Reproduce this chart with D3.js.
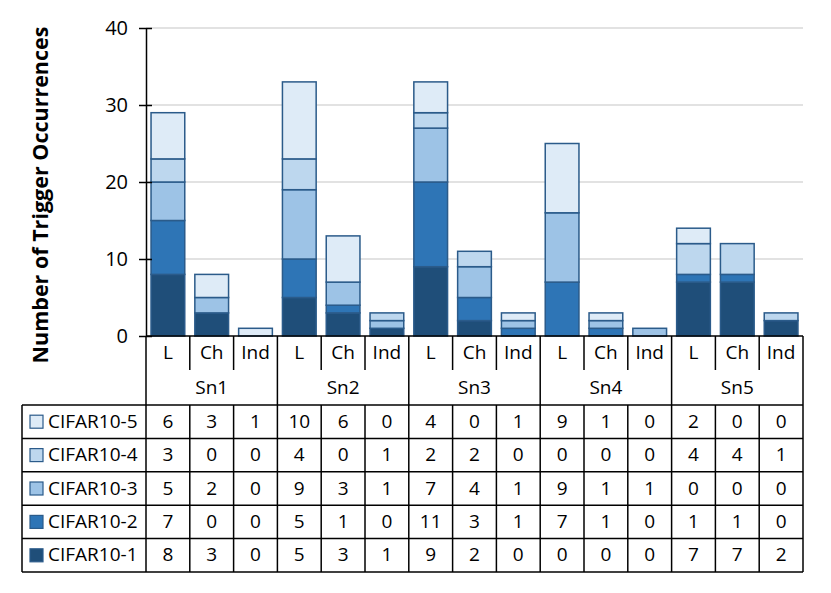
<!DOCTYPE html>
<html>
<head>
<meta charset="utf-8">
<script src="https://cdn.jsdelivr.net/npm/d3@7"></script>
<style>
  html, body { margin: 0; padding: 0; background: #fff; }
  svg { display: block; font-family: "Open Sans", "Noto Sans", sans-serif; }
</style>
</head>
<body>
<svg width="831" height="593"></svg>
<script>
const groups = ["Sn1", "Sn2", "Sn3", "Sn4", "Sn5"];
const subs = ["L", "Ch", "Ind"];
const seriesNames = ["CIFAR10-1", "CIFAR10-2", "CIFAR10-3", "CIFAR10-4", "CIFAR10-5"];
const colors = ["#1f4e79", "#2e75b6", "#9dc3e6", "#bdd7ee", "#deebf7"];

// values per series, columns in order Sn1 L/Ch/Ind, Sn2 L/Ch/Ind, ...
const cifar1 = [8, 3, 0, 5, 3, 1, 9, 2, 0, 0, 0, 0, 7, 7, 2];
const cifar2 = [7, 0, 0, 5, 1, 0, 11, 3, 1, 7, 1, 0, 1, 1, 0];
const cifar3 = [5, 2, 0, 9, 3, 1, 7, 4, 1, 9, 1, 1, 0, 0, 0];
const cifar4 = [3, 0, 0, 4, 0, 1, 2, 2, 0, 0, 0, 0, 4, 4, 1];
const cifar5 = [6, 3, 1, 10, 6, 0, 4, 0, 1, 9, 1, 0, 2, 0, 0];
const yTicks = [0, 10, 20, 30, 40];

const series = [cifar1, cifar2, cifar3, cifar4, cifar5];
const columns = groups.flatMap(g => subs.map(s => g + "|" + s));

const svg = d3.select("svg");
const plotLeft = 146, plotRight = 803, plotTop = 28, base = 336;
const headRow = 34, snRow = 35, rowH = 33.4;
const legendLeft = 22;
const fs = 19;

const x = d3.scaleBand().domain(columns).range([plotLeft, plotRight]).paddingInner(0.23).paddingOuter(0.115);
const colW = (plotRight - plotLeft) / columns.length;
const colX = i => plotLeft + i * colW;
const y = d3.scaleLinear().domain([0, 40]).range([base, plotTop]);

// grid
svg.append("g")
  .selectAll("line")
  .data(yTicks.filter(d => d > 0))
  .join("line")
  .attr("x1", plotLeft).attr("x2", plotRight)
  .attr("y1", d => y(d)).attr("y2", d => y(d))
  .attr("stroke", "#d9d9d9").attr("stroke-width", 1.5);

// stacked bars
const table = columns.map((c, i) => {
  const row = { col: c };
  seriesNames.forEach((s, k) => row[s] = series[k][i]);
  return row;
});
const stacked = d3.stack().keys(seriesNames)(table);

svg.append("g")
  .selectAll("g")
  .data(stacked)
  .join("g")
  .attr("fill", (d, k) => colors[k])
  .selectAll("rect")
  .data(d => d.filter(p => p[1] - p[0] > 0))
  .join("rect")
  .attr("x", p => x(p.data.col))
  .attr("width", x.bandwidth())
  .attr("y", p => y(p[1]))
  .attr("height", p => y(p[0]) - y(p[1]))
  .attr("stroke", "#2b5b8a")
  .attr("stroke-width", 1.5);

// y axis
const yAxis = svg.append("g")
  .attr("transform", `translate(${plotLeft},0)`)
  .call(d3.axisLeft(y).tickValues(yTicks).tickSize(0).tickPadding(18));
yAxis.select(".domain").attr("stroke", "#000").attr("stroke-width", 1.5);
yAxis.selectAll(".tick text").attr("font-size", fs + 1).attr("fill", "#000")
  .attr("font-family", "Open Sans, sans-serif");
yAxis.selectAll(".tick").append("line")
  .attr("x1", -7).attr("x2", 6).attr("stroke", "#000").attr("stroke-width", 1.5);

svg.append("text")
  .attr("transform", `translate(42,${(25 + 365) / 2}) rotate(-90)`)
  .attr("text-anchor", "middle")
  .attr("dominant-baseline", "middle")
  .attr("font-size", 21.5)
  .attr("font-weight", "bold")
  .text("Number of Trigger Occurrences");

// data table below
const tbl = svg.append("g").attr("stroke", "#000").attr("stroke-width", 1.5);
const dataTop = base + headRow + snRow;
const dataBottom = dataTop + rowH * seriesNames.length;

// header row: sub labels
svg.append("g")
  .selectAll("text")
  .data(columns)
  .join("text")
  .attr("x", (c, i) => colX(i) + colW / 2)
  .attr("y", base + headRow / 2 + 1)
  .attr("text-anchor", "middle")
  .attr("dominant-baseline", "middle")
  .attr("font-size", fs)
  .text(c => c.split("|")[1]);

// group labels
svg.append("g")
  .selectAll("text")
  .data(groups)
  .join("text")
  .attr("x", (g, i) => colX(i * 3) + colW * 1.5)
  .attr("y", base + headRow + snRow / 2 + 1)
  .attr("text-anchor", "middle")
  .attr("dominant-baseline", "middle")
  .attr("font-size", fs)
  .text(g => g);

// short separators within groups
tbl.selectAll("line.sub")
  .data(d3.range(1, columns.length).filter(i => i % 3 !== 0))
  .join("line")
  .attr("class", "sub")
  .attr("x1", i => colX(i)).attr("x2", i => colX(i))
  .attr("y1", base).attr("y2", base + headRow);

// group separators and outer verticals
tbl.selectAll("line.grp")
  .data(d3.range(0, columns.length + 1, 3))
  .join("line")
  .attr("class", "grp")
  .attr("x1", i => colX(i)).attr("x2", i => colX(i))
  .attr("y1", base).attr("y2", dataTop);

// data-row verticals
tbl.selectAll("line.dv")
  .data(d3.range(0, columns.length + 1))
  .join("line")
  .attr("class", "dv")
  .attr("x1", i => colX(i)).attr("x2", i => colX(i))
  .attr("y1", dataTop).attr("y2", dataBottom);

tbl.append("line").attr("x1", legendLeft).attr("x2", legendLeft)
  .attr("y1", dataTop).attr("y2", dataBottom);

// horizontals
tbl.selectAll("line.h")
  .data(d3.range(0, seriesNames.length + 1))
  .join("line")
  .attr("class", "h")
  .attr("x1", legendLeft).attr("x2", plotRight)
  .attr("y1", r => dataTop + r * rowH).attr("y2", r => dataTop + r * rowH);

// x baseline
tbl.append("line").attr("x1", plotLeft).attr("x2", plotRight).attr("y1", base).attr("y2", base);

// rows: top row is CIFAR10-5
const rowOrder = d3.range(seriesNames.length).reverse();
const rows = svg.append("g")
  .selectAll("g")
  .data(rowOrder)
  .join("g")
  .attr("transform", (k, r) => `translate(0,${dataTop + r * rowH})`);

rows.append("rect")
  .attr("x", 30).attr("y", rowH / 2 - 6.5)
  .attr("width", 13).attr("height", 13)
  .attr("fill", k => colors[k])
  .attr("stroke", "#2b5b8a").attr("stroke-width", 1.2);

rows.append("text")
  .attr("x", 48).attr("y", rowH / 2 + 1)
  .attr("dominant-baseline", "middle")
  .attr("font-size", fs)
  .text(k => seriesNames[k]);

rows.selectAll("text.v")
  .data(k => series[k])
  .join("text")
  .attr("class", "v")
  .attr("x", (v, i) => colX(i) + colW / 2)
  .attr("y", rowH / 2 + 1)
  .attr("text-anchor", "middle")
  .attr("dominant-baseline", "middle")
  .attr("font-size", fs)
  .text(v => v);
</script>
</body>
</html>
